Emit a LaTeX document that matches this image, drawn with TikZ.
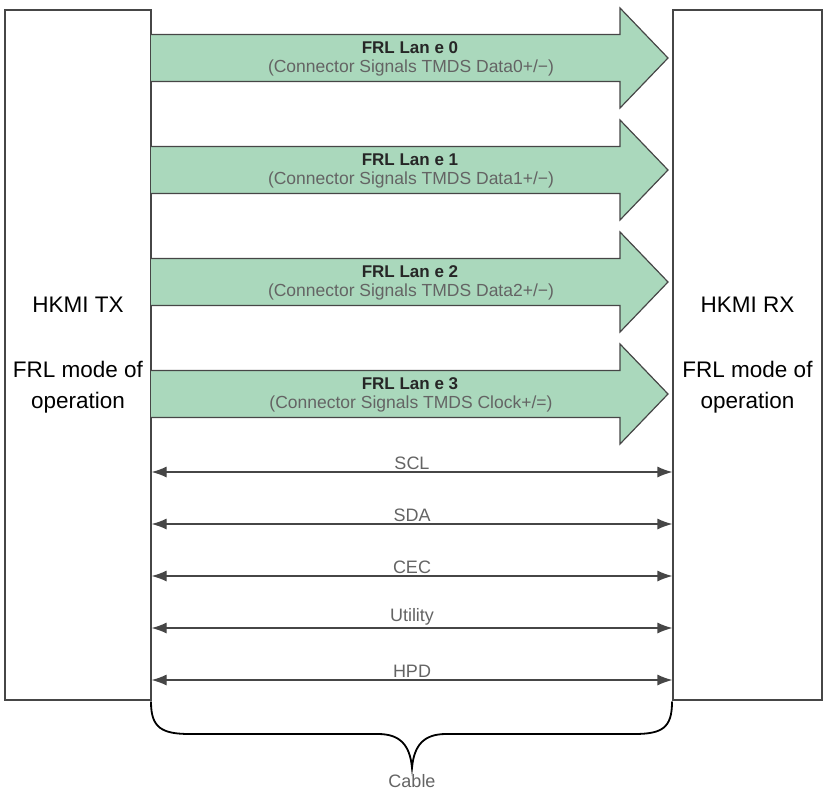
\documentclass[tikz,border=0pt]{standalone}
\usepackage{fontspec}
\setmainfont{Liberation Sans}
\usetikzlibrary{arrows.meta,positioning}
\definecolor{lanegreen}{RGB}{170,216,188}
\definecolor{linegray}{RGB}{70,70,70}
\definecolor{labelgray}{RGB}{100,100,100}

\begin{document}
\begin{tikzpicture}[x=1pt,y=-1pt,
    box/.style={draw=linegray, line width=1.2pt, minimum height=690pt, align=center,
      inner sep=0pt, font=\fontsize{22.5}{31}\selectfont},
    lane/.style={draw=linegray, line width=1.2pt, fill=lanegreen, line join=miter},
    lanetitle/.style={anchor=base, font=\fontsize{17}{20}\selectfont\bfseries, text=black!85},
    lanesub/.style={anchor=base, font=\fontsize{17.5}{20}\selectfont, text=labelgray},
    sig/.style={{Latex[length=15pt,width=11pt]}-{Latex[length=15pt,width=11pt]}, line width=1.2pt, draw=linegray},
    siglabel/.style={font=\fontsize{18}{20}\selectfont, text=labelgray, inner sep=2pt}]
  \useasboundingbox (0,0) rectangle (827,801);
  % end boxes
  \node[box, minimum width=146pt] (tx) at (78,355) {HKMI TX\\[34pt]FRL mode of\\operation};
  \node[box, minimum width=149pt] (rx) at (747.5,355) {HKMI RX\\[34pt]FRL mode of\\operation};
  % FRL lanes
  \foreach \i/\y/\sub in {0/58/{Data0+/−}, 1/170/{Data1+/−}, 2/282/{Data2+/−}, 3/394/{Clock+/=}}{
    \path[lane] (151,\y-23.5) -- (620,\y-23.5) -- (620,\y-50) -- (668,\y)
      -- (620,\y+50) -- (620,\y+23.5) -- (151,\y+23.5);
    \node[lanetitle] (lane\i) at (410,\y-5) {FRL Lan e \i};
    \node[lanesub] (sub\i) at (411,\y+14) {(Connector Signals TMDS \sub)};
  }
  % side band signals
  \foreach \n/\y in {SCL/472, SDA/524, CEC/576, Utility/628, HPD/680}{
    \coordinate (y\n) at (0,\y);
    \draw[sig] (tx.east |- y\n) -- (rx.west |- y\n) node[midway, above, siglabel] {\n};
  }
  % cable brace
  \coordinate (bl) at (151,702);
  \coordinate (br) at (672,702);
  \coordinate (tip) at (412,768);
  \draw[line width=1.8pt, line cap=round] (bl) .. controls (151,728) and (162,734) .. (190,734)
    -- (378,734) .. controls (400,734) and (410,745) .. (tip)
    .. controls (414,745) and (424,734) .. (446,734) -- (634,734)
    .. controls (662,734) and (672,728) .. (br);
  \node[siglabel, below=4pt of tip] (cable) {Cable};
\end{tikzpicture}
\end{document}
